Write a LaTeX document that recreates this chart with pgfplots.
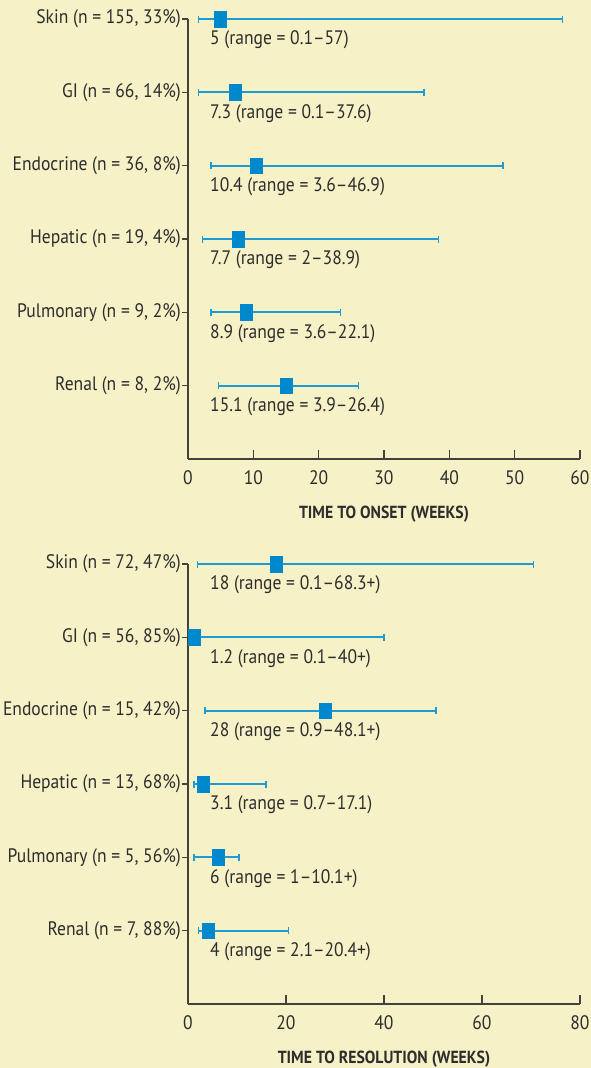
\documentclass[border=0pt]{standalone}
\usepackage{fontspec}
\setmainfont{PT Sans}[FakeStretch=0.9]
\usepackage{pgfplots}
\pgfplotsset{compat=1.18}
\usepackage{pgfplotstable}

\definecolor{bg}{RGB}{246,241,199}
\definecolor{mk}{RGB}{0,136,204}
\definecolor{wh}{RGB}{30,155,212}
\definecolor{ax}{RGB}{68,64,58}
\definecolor{txt}{RGB}{45,45,45}

% y = row (6 = Skin ... 1 = Renal), med = median, em/ep = distance to low/high end
\pgfplotstableread{
y med em ep
6 5.0 3.4 52.3
5 7.3 5.7 28.8
4 10.4 6.9 37.8
3 7.7 5.5 30.6
2 8.9 5.4 14.4
1 15.1 10.4 11.0
}\onset

\pgfplotstableread{
y med em ep
6 17.9 15.9 52.6
5 1.2 0.7 38.8
4 27.9 24.4 22.7
3 3.1 1.9 12.8
2 6.2 5.0 4.2
1 4.1 1.9 16.4
}\resol

\pgfplotsset{
  panel/.style={
    scale only axis, width=392pt, height=440pt,
    axis lines*=left,
    axis line style={ax, line width=1.2pt},
    ymin=0, ymax=6, ytick={1,...,6},
    major y tick style={draw=none},
    minor ytick={1,...,6}, minor tick length=6pt,
    minor y tick style={ax, line width=1.2pt, xshift=-6pt},
    tick align=inside, major tick length=9pt,
    major x tick style={ax, line width=1.2pt},
    tick label style={font=\fontsize{19.5}{22}\selectfont, text=txt},
    /pgf/number format/assume math mode=true,
    yticklabel style={inner sep=0pt, xshift=-7pt},
    xticklabel style={inner sep=0pt, yshift=-11pt},
    xlabel style={font=\bfseries\fontsize{17.5}{19}\selectfont, text=txt,
      at={(axis description cs:0.5,0)}, anchor=center, yshift=-55pt},
    clip=false,
  },
  whisk/.style={draw=none, mark=none, forget plot,
    error bars/.cd, x dir=both, x explicit, error mark=|,
    error bar style={draw=wh, line width=1.7pt},
    error mark options={draw=wh, line width=1.4pt, mark size=3.5pt}},
  medmark/.style={only marks, mark=square*, mark size=6pt,
    mark options={fill=mk, draw=mk, yscale=1.3}},
}
\tikzset{rl/.style={anchor=west, inner sep=0pt, text=txt, font=\fontsize{19.5}{22}\selectfont}}

\begin{document}
\begin{tikzpicture}
\path[use as bounding box, fill=bg] (0,0) rectangle (591pt,-1068pt);

\begin{axis}[panel, at={(188pt,-459pt)}, anchor=south west,
  xmin=0, xmax=60, xtick={0,10,...,60},
  yticklabels={{Renal (n = 8, 2\%)}, {Pulmonary (n = 9, 2\%)}, {Hepatic (n = 19, 4\%)},
    {Endocrine (n = 36, 8\%)}, {GI (n = 66, 14\%)}, {Skin (n = 155, 33\%)}},
  xlabel={TIME TO ONSET (WEEKS)}]
  \addplot[whisk] table[x=med, y=y, x error minus=em, x error plus=ep] {\onset};
  \addplot[medmark] table[x=med, y=y] {\onset};
  \node[rl, xshift=22pt, yshift=-21pt] at (axis cs:0,6) {5 (range = 0.1–57)};
  \node[rl, xshift=22pt, yshift=-21pt] at (axis cs:0,5) {7.3 (range = 0.1–37.6)};
  \node[rl, xshift=22pt, yshift=-21pt] at (axis cs:0,4) {10.4 (range = 3.6–46.9)};
  \node[rl, xshift=22pt, yshift=-21pt] at (axis cs:0,3) {7.7 (range = 2–38.9)};
  \node[rl, xshift=22pt, yshift=-21pt] at (axis cs:0,2) {8.9 (range = 3.6–22.1)};
  \node[rl, xshift=22pt, yshift=-21pt] at (axis cs:0,1) {15.1 (range = 3.9–26.4)};
\end{axis}

\begin{axis}[panel, at={(188pt,-1004pt)}, anchor=south west,
  xmin=0, xmax=80, xtick={0,20,...,80},
  yticklabels={{Renal (n = 7, 88\%)}, {Pulmonary (n = 5, 56\%)}, {Hepatic (n = 13, 68\%)},
    {Endocrine (n = 15, 42\%)}, {GI (n = 56, 85\%)}, {Skin (n = 72, 47\%)}},
  xlabel={TIME TO RESOLUTION (WEEKS)}]
  \addplot[whisk] table[x=med, y=y, x error minus=em, x error plus=ep] {\resol};
  \addplot[medmark] table[x=med, y=y] {\resol};
  \node[rl, xshift=22pt, yshift=-21pt] at (axis cs:0,6) {18 (range = 0.1–68.3+)};
  \node[rl, xshift=22pt, yshift=-21pt] at (axis cs:0,5) {1.2 (range = 0.1–40+)};
  \node[rl, xshift=22pt, yshift=-21pt] at (axis cs:0,4) {28 (range = 0.9–48.1+)};
  \node[rl, xshift=22pt, yshift=-21pt] at (axis cs:0,3) {3.1 (range = 0.7–17.1)};
  \node[rl, xshift=22pt, yshift=-21pt] at (axis cs:0,2) {6 (range = 1–10.1+)};
  \node[rl, xshift=22pt, yshift=-21pt] at (axis cs:0,1) {4 (range = 2.1–20.4+)};
\end{axis}
\end{tikzpicture}
\end{document}
